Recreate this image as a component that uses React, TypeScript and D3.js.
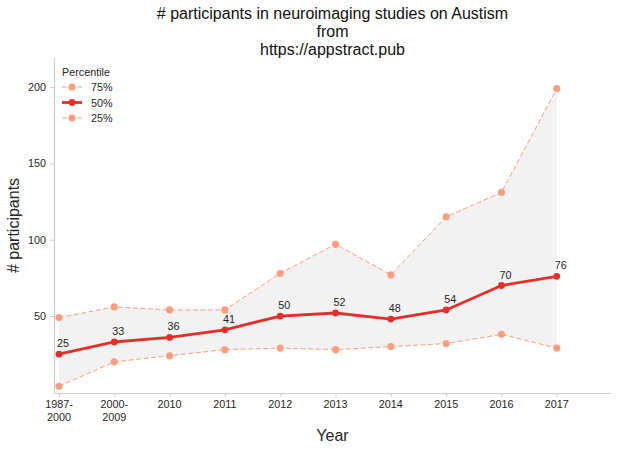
import { useEffect, useRef } from "react";
import * as d3 from "d3";

const years = ["1987-\n2000", "2000-\n2009", "2010", "2011", "2012", "2013", "2014", "2015", "2016", "2017"];
const p75 = [49, 56, 54, 54, 78, 97, 77, 115, 131, 199];
const p50 = [25, 33, 36, 41, 50, 52, 48, 54, 70, 76];
const p25 = [4, 20, 24, 28, 29, 28, 30, 32, 38, 29];
const yTicks = [50, 100, 150, 200];

const W = 618;
const H = 449;
const light = "#fc9f80";
const dark = "#e32f27";
const text = "#262626";
const font = "'Liberation Sans', Arial, sans-serif";
const fs = 10.8;

export default function App() {
  const ref = useRef<SVGSVGElement | null>(null);

  useEffect(() => {
    if (!ref.current) return;
    const svg = d3.select(ref.current);
    svg.selectAll("*").remove();

    const m = { l: 54, r: 611, t: 58, b: 393 };
    const x = d3.scaleLinear().domain([-0.09, 9.98]).range([m.l, m.r]);
    const y = d3.scaleLinear().domain([-0.4, 219]).range([m.b, m.t]);
    const idx = d3.range(years.length);

    // band between 25% and 75%
    const band = d3
      .area<number>()
      .x((i) => x(i))
      .y0((i) => y(p25[i]))
      .y1((i) => y(p75[i]));
    svg.append("path").datum(idx).attr("d", band).attr("fill", "#f2f2f2");

    // axes
    const yAxis = svg
      .append("g")
      .attr("transform", `translate(${m.l},0)`)
      .call(d3.axisLeft(y).tickValues(yTicks).tickSize(4).tickPadding(4));
    const xAxis = svg
      .append("g")
      .attr("transform", `translate(0,${m.b})`)
      .call(d3.axisBottom(x).tickValues(idx).tickSize(4).tickPadding(4).tickFormat(() => ""));
    [yAxis, xAxis].forEach((a) => {
      a.select(".domain").attr("stroke", "#cccccc").attr("stroke-width", 1.2);
      a.selectAll(".tick line").attr("stroke", "#cccccc");
      a.selectAll("text").attr("fill", text).attr("font-family", font).attr("font-size", fs);
    });
    yAxis.select(".domain").attr("d", `M0.5,${m.b}V${m.t}`);
    xAxis.select(".domain").attr("d", `M${m.l},0.5H${m.r}`);

    // multi-line x labels
    idx.forEach((i) => {
      const t = svg
        .append("text")
        .attr("x", x(i))
        .attr("y", m.b + 15)
        .attr("text-anchor", "middle")
        .attr("fill", text)
        .attr("font-family", font)
        .attr("font-size", fs);
      years[i].split("\n").forEach((s, k) => {
        t.append("tspan").attr("x", x(i)).attr("dy", k === 0 ? 0 : 12.5).text(s);
      });
    });

    const line = d3
      .line<number>()
      .x((_, i) => x(i))
      .y((d) => y(d));

    [p75, p25].forEach((s) => {
      svg
        .append("path")
        .datum(s)
        .attr("d", line)
        .attr("fill", "none")
        .attr("stroke", light)
        .attr("stroke-width", 1)
        .attr("stroke-dasharray", "5,2.5");
      svg
        .append("g")
        .selectAll("circle")
        .data(s)
        .join("circle")
        .attr("cx", (_, i) => x(i))
        .attr("cy", (d) => y(d))
        .attr("r", 3.6)
        .attr("fill", light);
    });

    svg
      .append("path")
      .datum(p50)
      .attr("d", line)
      .attr("fill", "none")
      .attr("stroke", dark)
      .attr("stroke-width", 2.8);
    svg
      .append("g")
      .selectAll("circle")
      .data(p50)
      .join("circle")
      .attr("cx", (_, i) => x(i))
      .attr("cy", (d) => y(d))
      .attr("r", 3.4)
      .attr("fill", dark);

    // value labels
    svg
      .append("g")
      .selectAll("text")
      .data(p50)
      .join("text")
      .attr("x", (_, i) => x(i) - 2)
      .attr("y", (d) => y(d) - 7)
      .attr("fill", text)
      .attr("font-family", font)
      .attr("font-size", fs)
      .text((d) => d);

    // legend
    const lg = svg.append("g").attr("font-family", font).attr("font-size", fs).attr("fill", text);
    lg.append("text").attr("x", 62).attr("y", 76).text("Percentile");
    const items = [
      { label: "75%", c: light, w: 1, dash: "5,2.5", r: 3.6 },
      { label: "50%", c: dark, w: 2.8, dash: null, r: 3.4 },
      { label: "25%", c: light, w: 1, dash: "5,2.5", r: 3.6 },
    ];
    items.forEach((it, k) => {
      const cy = 87 + k * 15.5;
      lg.append("line")
        .attr("x1", 62).attr("x2", 82).attr("y1", cy).attr("y2", cy)
        .attr("stroke", it.c).attr("stroke-width", it.w)
        .attr("stroke-dasharray", it.dash);
      lg.append("circle").attr("cx", 72).attr("cy", cy).attr("r", it.r).attr("fill", it.c);
      lg.append("text").attr("x", 91).attr("y", cy + 4).text(it.label);
    });

    // titles
    const title = svg
      .append("text")
      .attr("text-anchor", "middle")
      .attr("font-family", font)
      .attr("font-size", 16)
      .attr("fill", "#111");
    ["# participants in neuroimaging studies on Austism", "from", "https://appstract.pub"].forEach((s, k) => {
      title.append("tspan").attr("x", (m.l + m.r) / 2).attr("y", 19 + k * 18).text(s);
    });

    svg
      .append("text")
      .attr("x", (m.l + m.r) / 2)
      .attr("y", 441)
      .attr("text-anchor", "middle")
      .attr("font-family", font)
      .attr("font-size", 16)
      .attr("fill", text)
      .text("Year");

    svg
      .append("text")
      .attr("transform", `translate(19,${(m.t + m.b) / 2}) rotate(-90)`)
      .attr("text-anchor", "middle")
      .attr("font-family", font)
      .attr("font-size", 16)
      .attr("fill", text)
      .text("# participants");
  }, []);

  return (
    <svg
      ref={ref}
      width={W}
      height={H}
      style={{ position: "absolute", left: 0, top: 0, background: "#fff" }}
    />
  );
}
